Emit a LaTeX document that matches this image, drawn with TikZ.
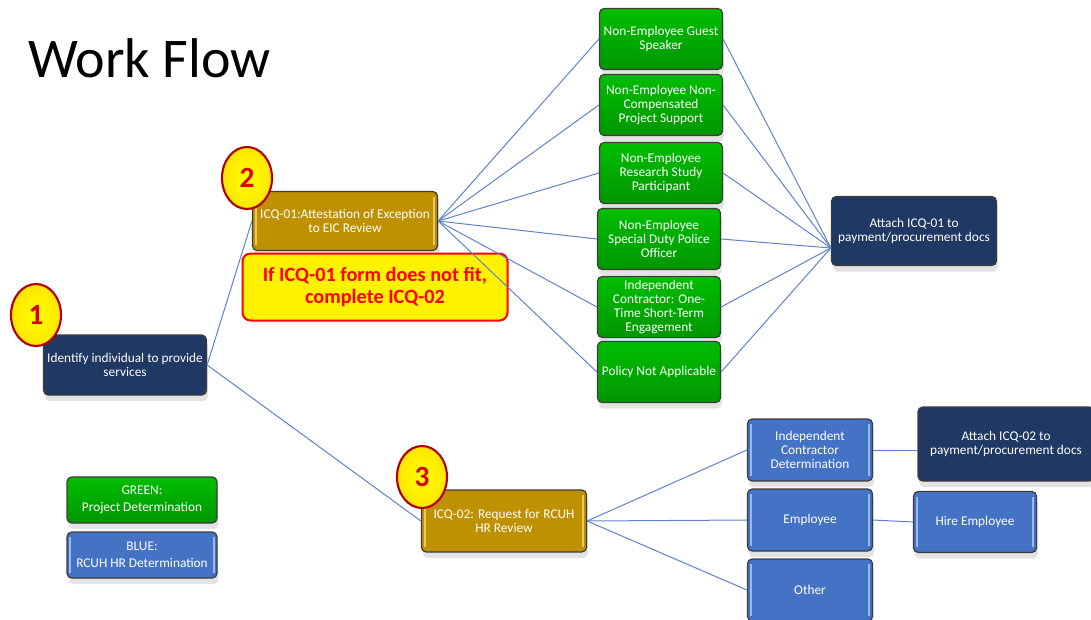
\documentclass[tikz,border=0pt]{standalone}
\usepackage{fontspec}
\setmainfont{Carlito}
\usetikzlibrary{shapes.geometric,shadows}

\definecolor{navybox}{RGB}{31,56,100}
\definecolor{goldbox}{RGB}{191,144,0}
\definecolor{greentop}{RGB}{0,190,0}
\definecolor{greenbot}{RGB}{0,150,0}
\definecolor{bluebox}{RGB}{68,114,196}
\definecolor{bluelite}{RGB}{150,185,240}
\definecolor{goldlite}{RGB}{235,200,90}
\definecolor{linkblue}{RGB}{95,130,200}
\definecolor{edgegrey}{RGB}{60,60,60}
\definecolor{markred}{RGB}{220,0,0}

\tikzset{
  box/.style={draw=edgegrey, line width=0.9pt, rounded corners=3.5pt, text=white, align=center,
    font=\fontsize{10}{10.5}\selectfont, inner sep=1pt,
    drop shadow={shadow xshift=1pt, shadow yshift=-4.5pt, opacity=0.22}},
  bevel/.style={path picture={
    \draw[#1, line width=1.3pt] ([xshift=2.5pt,yshift=-4pt]path picture bounding box.north west) -- ([xshift=2.5pt,yshift=4pt]path picture bounding box.south west);
    \draw[#1, line width=1.3pt] ([xshift=-2.5pt,yshift=-4pt]path picture bounding box.north east) -- ([xshift=-2.5pt,yshift=4pt]path picture bounding box.south east);}},
  navy/.style={box, fill=navybox},
  gold/.style={box, fill=goldbox, bevel=goldlite},
  green/.style={box, top color=greentop, bottom color=greenbot, minimum width=92.25pt, minimum height=45.75pt},
  blue/.style={box, fill=bluebox, bevel=bluelite},
  marker/.style={ellipse, draw=markred!80!black, line width=1.6pt, inner color=yellow, outer color=yellow!80!orange,
    minimum width=37.5pt, minimum height=46.5pt, inner sep=0pt, text=markred, font=\fontsize{22}{22}\selectfont\bfseries},
  link/.style={draw=linkblue, line width=0.75pt}
}

\begin{document}
\begin{tikzpicture}[x=0.75pt,y=0.75pt,yscale=-1,xscale=1]
\useasboundingbox (0,0) rectangle (1091,619);

% Title
\node[anchor=west, inner sep=0pt, font=\fontsize{42}{42}\selectfont] (title) at (28,58) {Work Flow};

% Steps
\node[navy, minimum width=122.25pt, minimum height=45pt] (ident) at (125,365) {Identify individual to provide\\services};
\node[gold, minimum width=138.75pt, minimum height=44.25pt] (icq1) at (345,221) {ICQ-01:Attestation of Exception\\to EIC Review};
\node[draw=red, line width=1.5pt, fill=yellow, rounded corners=6pt, align=center, text=red,
  font=\fontsize{15.2}{17}\selectfont\bfseries, minimum width=198.75pt, minimum height=50.25pt] (note) at (375,287) {If ICQ-01 form does not fit,\\complete ICQ-02};
\node[gold, minimum width=123.75pt, minimum height=46.5pt] (icq2) at (504,521) {ICQ-02: Request for RCUH\\HR Review};

% Project determinations
\node[green] (gGuest) at (661,39) {Non-Employee Guest\\Speaker};
\node[green] (gNonComp) at (661,105) {Non-Employee Non-\\Compensated\\Project Support};
\node[green] (gResearch) at (661,173) {Non-Employee\\Research Study\\Participant};
\node[green] (gPolice) at (659,239) {Non-Employee\\Special Duty Police\\Officer};
\node[green] (gContractor) at (659,307) {Independent\\Contractor: One-\\Time Short-Term\\Engagement};
\node[green] (gPolicy) at (659,372) {Policy Not Applicable};
\node[navy, minimum width=123.75pt, minimum height=51.75pt] (att1) at (914,231) {Attach ICQ-01 to\\payment/procurement docs};

% HR determinations
\node[blue, minimum width=93.75pt, minimum height=46.5pt] (bIndep) at (810,450) {Independent\\Contractor\\Determination};
\node[blue, minimum width=93.75pt, minimum height=46.5pt] (bEmp) at (810,520) {Employee};
\node[blue, minimum width=93.75pt, minimum height=46.5pt] (bOther) at (810,590) {Other};
\node[navy, minimum width=132pt, minimum height=55.5pt] (att2) at (1006,444) {Attach ICQ-02 to\\payment/procurement docs};
\node[blue, minimum width=92.25pt, minimum height=45.75pt] (hire) at (975,522) {Hire Employee};

% Legend
\node[box, top color=greentop, bottom color=greenbot, minimum width=112.5pt, minimum height=34.5pt] (legGreen) at (142,500) {GREEN:\\[2pt]Project Determination};
\node[blue, minimum width=112.5pt, minimum height=34.5pt] (legBlue) at (142,555) {BLUE:\\[2pt]RCUH HR Determination};

% Step markers
\node[marker] (c1) at (36,315) {1};
\node[marker] (c2) at (247,178) {2};
\node[marker] (c3) at (422,477) {3};

% Connectors
\coordinate (a1in) at ([yshift=12.75pt]att1.west);
\draw[link] (ident.east) -- (icq1.west);
\draw[link] (ident.east) -- (icq2.west);
\foreach \g in {gGuest,gNonComp,gResearch,gPolice,gContractor,gPolicy}{
  \draw[link] (icq1.east) -- (\g.west);
  \draw[link] (\g.east) -- (a1in);
}
\foreach \b in {bIndep,bEmp,bOther}
  \draw[link] (icq2.east) -- (\b.west);
\draw[link] (bIndep.east) -- (bIndep.east -| att2.west);
\draw[link] (bEmp.east) -- (hire.west);

\end{tikzpicture}
\end{document}
